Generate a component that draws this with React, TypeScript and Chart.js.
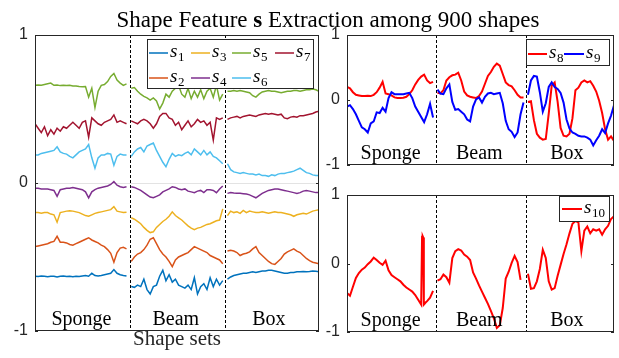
import React, { useEffect, useRef } from 'react';
import { Chart, registerables } from 'chart.js';
Chart.register(...registerables);

// ---------- categories / ticks ----------
const SEG_LABELS = ['Sponge', 'Beam', 'Box'];
const SEG_LABEL_X = [147, 446, 741];
const DIVIDERS = [301, 602];
const Y_TICKS = [-1, 0, 1];
const TITLE_PARTS = ['Shape Feature ', 's', ' Extraction among 900 shapes'];
const X_LABEL = 'Shape sets';

// ---------- x positions (shape index) ----------
const SPONGE_X = [0, 10, 20, 30, 40, 50, 60, 70, 80, 90, 100, 110, 120, 130, 140, 150, 160, 170, 180, 190, 200, 210, 220, 230, 240, 250, 260, 270, 280, 290];
const BEAM_X = [305, 315, 325, 335, 345, 355, 365, 375, 385, 395, 405, 415, 425, 435, 445, 455, 465, 475, 485, 495, 505, 515, 525, 535, 545, 555, 565, 575, 585, 595];
const BOX_X = [610, 620, 630, 640, 650, 660, 670, 680, 690, 700, 710, 720, 730, 740, 750, 760, 770, 780, 790, 800, 810, 820, 830, 840, 850, 860, 870, 880, 890, 900];
const S10_SPONGE_X = [0, 10, 20, 30, 40, 50, 60, 70, 80, 90, 100, 110, 120, 130, 140, 150, 160, 170, 180, 190, 200, 210, 220, 230, 240, 250, 253, 255, 257, 259, 265, 270, 280, 290];

// ---------- series values ----------
const S1_SPONGE = [-0.63, -0.632, -0.628, -0.63, -0.633, -0.63, -0.63, -0.635, -0.63, -0.628, -0.632, -0.63, -0.633, -0.63, -0.632, -0.628, -0.625, -0.63, -0.61, -0.625, -0.628, -0.625, -0.62, -0.615, -0.61, -0.585, -0.61, -0.62, -0.625, -0.628];
const S1_BEAM = [-0.70, -0.705, -0.69, -0.70, -0.65, -0.72, -0.75, -0.70, -0.69, -0.63, -0.59, -0.66, -0.62, -0.67, -0.65, -0.69, -0.70, -0.71, -0.69, -0.72, -0.64, -0.75, -0.70, -0.68, -0.72, -0.64, -0.70, -0.65, -0.69, -0.66];
const S1_BOX = [-0.65, -0.635, -0.625, -0.62, -0.615, -0.61, -0.61, -0.605, -0.60, -0.605, -0.60, -0.595, -0.595, -0.59, -0.59, -0.595, -0.60, -0.605, -0.61, -0.61, -0.605, -0.605, -0.60, -0.60, -0.598, -0.60, -0.598, -0.595, -0.597, -0.60];

const S2_SPONGE = [-0.43, -0.425, -0.42, -0.415, -0.41, -0.40, -0.395, -0.36, -0.40, -0.40, -0.405, -0.415, -0.42, -0.41, -0.40, -0.39, -0.38, -0.37, -0.385, -0.395, -0.405, -0.42, -0.43, -0.45, -0.475, -0.535, -0.47, -0.44, -0.435, -0.445];
const S2_BEAM = [-0.53, -0.50, -0.48, -0.47, -0.45, -0.42, -0.38, -0.37, -0.41, -0.45, -0.48, -0.50, -0.53, -0.565, -0.52, -0.50, -0.49, -0.48, -0.47, -0.45, -0.43, -0.44, -0.45, -0.46, -0.47, -0.49, -0.50, -0.51, -0.52, -0.545];
const S2_BOX = [-0.46, -0.455, -0.46, -0.47, -0.49, -0.48, -0.475, -0.465, -0.445, -0.43, -0.47, -0.49, -0.51, -0.53, -0.545, -0.55, -0.53, -0.51, -0.48, -0.465, -0.455, -0.445, -0.46, -0.47, -0.49, -0.51, -0.525, -0.535, -0.54, -0.545];

const S3_SPONGE = [-0.20, -0.20, -0.205, -0.20, -0.20, -0.21, -0.215, -0.265, -0.20, -0.195, -0.19, -0.188, -0.19, -0.195, -0.20, -0.21, -0.22, -0.225, -0.215, -0.205, -0.20, -0.195, -0.19, -0.185, -0.18, -0.16, -0.19, -0.195, -0.20, -0.197];
const S3_BEAM = [-0.235, -0.245, -0.26, -0.275, -0.30, -0.32, -0.335, -0.33, -0.30, -0.28, -0.26, -0.245, -0.225, -0.195, -0.22, -0.235, -0.25, -0.27, -0.29, -0.305, -0.315, -0.305, -0.30, -0.29, -0.28, -0.275, -0.265, -0.255, -0.25, -0.175];
const S3_BOX = [-0.22, -0.19, -0.20, -0.195, -0.205, -0.185, -0.20, -0.19, -0.195, -0.20, -0.20, -0.195, -0.20, -0.205, -0.20, -0.195, -0.20, -0.20, -0.205, -0.21, -0.215, -0.225, -0.215, -0.21, -0.205, -0.21, -0.20, -0.19, -0.185, -0.18];

const S4_SPONGE = [-0.035, -0.035, -0.04, -0.04, -0.04, -0.045, -0.05, -0.09, -0.045, -0.04, -0.035, -0.035, -0.03, -0.035, -0.04, -0.045, -0.06, -0.10, -0.06, -0.045, -0.035, -0.03, -0.025, -0.02, -0.01, 0.01, -0.015, -0.025, -0.03, -0.025];
const S4_BEAM = [-0.025, -0.03, -0.04, -0.05, -0.065, -0.08, -0.095, -0.10, -0.09, -0.08, -0.06, -0.05, -0.04, -0.025, -0.03, -0.04, -0.045, -0.04, -0.055, -0.06, -0.065, -0.055, -0.05, -0.065, -0.045, -0.045, -0.05, -0.065, -0.04, -0.02];
const S4_BOX = [-0.07, -0.065, -0.068, -0.07, -0.07, -0.072, -0.075, -0.08, -0.09, -0.10, -0.085, -0.07, -0.06, -0.05, -0.045, -0.04, -0.04, -0.045, -0.05, -0.055, -0.06, -0.065, -0.07, -0.065, -0.055, -0.05, -0.055, -0.06, -0.065, -0.065];

const S5_SPONGE = [0.66, 0.662, 0.66, 0.665, 0.67, 0.675, 0.66, 0.662, 0.658, 0.66, 0.658, 0.66, 0.655, 0.656, 0.652, 0.65, 0.652, 0.58, 0.64, 0.51, 0.62, 0.66, 0.665, 0.685, 0.72, 0.74, 0.695, 0.675, 0.66, 0.67];
const S5_BEAM = [0.64, 0.645, 0.62, 0.60, 0.585, 0.575, 0.56, 0.575, 0.555, 0.50, 0.54, 0.60, 0.58, 0.62, 0.64, 0.66, 0.60, 0.58, 0.64, 0.57, 0.62, 0.58, 0.63, 0.57, 0.62, 0.64, 0.58, 0.66, 0.56, 0.60];
const S5_BOX = [0.62, 0.62, 0.625, 0.62, 0.625, 0.62, 0.615, 0.61, 0.59, 0.58, 0.60, 0.615, 0.62, 0.625, 0.62, 0.62, 0.615, 0.61, 0.615, 0.62, 0.62, 0.625, 0.625, 0.62, 0.625, 0.63, 0.63, 0.635, 0.63, 0.62];

const S6_SPONGE = [0.19, 0.19, 0.20, 0.205, 0.21, 0.215, 0.22, 0.245, 0.21, 0.20, 0.195, 0.18, 0.17, 0.19, 0.21, 0.22, 0.23, 0.26, 0.17, 0.10, 0.17, 0.19, 0.19, 0.20, 0.195, 0.12, 0.18, 0.195, 0.19, 0.19];
const S6_BEAM = [0.18, 0.21, 0.23, 0.24, 0.21, 0.25, 0.26, 0.27, 0.22, 0.18, 0.14, 0.11, 0.16, 0.20, 0.18, 0.19, 0.185, 0.20, 0.21, 0.19, 0.23, 0.21, 0.19, 0.22, 0.19, 0.21, 0.18, 0.17, 0.15, 0.13];
const S6_BOX = [0.13, 0.09, 0.075, 0.07, 0.065, 0.07, 0.065, 0.06, 0.06, 0.055, 0.06, 0.05, 0.05, 0.045, 0.055, 0.05, 0.06, 0.065, 0.065, 0.07, 0.075, 0.08, 0.09, 0.10, 0.085, 0.07, 0.065, 0.055, 0.05, 0.05];

const S7_SPONGE = [0.40, 0.37, 0.34, 0.38, 0.32, 0.36, 0.33, 0.37, 0.35, 0.38, 0.37, 0.39, 0.41, 0.39, 0.37, 0.41, 0.42, 0.31, 0.44, 0.42, 0.40, 0.39, 0.41, 0.42, 0.43, 0.46, 0.41, 0.42, 0.41, 0.40];
const S7_BEAM = [0.42, 0.41, 0.40, 0.42, 0.43, 0.42, 0.40, 0.37, 0.40, 0.45, 0.47, 0.47, 0.44, 0.43, 0.39, 0.41, 0.36, 0.39, 0.42, 0.38, 0.40, 0.43, 0.41, 0.42, 0.39, 0.41, 0.29, 0.44, 0.43, 0.44];
const S7_BOX = [0.43, 0.44, 0.445, 0.45, 0.44, 0.45, 0.455, 0.46, 0.455, 0.45, 0.46, 0.465, 0.47, 0.465, 0.47, 0.465, 0.46, 0.465, 0.44, 0.435, 0.445, 0.45, 0.445, 0.455, 0.455, 0.46, 0.465, 0.47, 0.48, 0.485];

const S8_SPONGE = [0.20, 0.18, 0.12, 0.08, 0.07, 0.06, 0.06, 0.065, 0.06, 0.08, 0.12, 0.19, 0.28, 0.10, 0.09, 0.07, 0.04, 0.03, 0.03, 0.035, 0.05, 0.09, 0.15, 0.24, 0.31, 0.36, 0.39, 0.30, 0.26, 0.28];
const S8_BEAM = [0.11, 0.10, 0.15, 0.30, 0.35, 0.38, 0.39, 0.42, 0.30, 0.13, 0.07, 0.05, 0.04, 0.03, 0.06, 0.13, 0.25, 0.37, 0.43, 0.51, 0.56, 0.53, 0.40, 0.27, 0.23, 0.21, 0.15, 0.08, 0.04, 0.04];
const S8_BOX = [-0.03, -0.02, -0.31, -0.52, -0.58, -0.61, -0.60, -0.21, 0.22, 0.27, -0.03, -0.43, -0.55, -0.56, -0.52, -0.28, 0.15, 0.19, 0.27, 0.30, 0.27, 0.29, 0.22, 0.13, -0.01, -0.20, -0.45, -0.61, -0.56, -0.63];

const S9_SPONGE = [-0.10, -0.08, -0.14, -0.22, -0.32, -0.42, -0.45, -0.50, -0.36, -0.33, -0.19, -0.20, -0.12, -0.18, 0.03, 0.12, 0.09, 0.09, 0.09, 0.09, 0.10, 0.11, 0.03, -0.10, -0.18, -0.26, -0.34, -0.22, -0.06, -0.27];
const S9_BEAM = [0.16, 0.10, 0.09, 0.18, 0.24, -0.03, -0.15, -0.14, -0.18, -0.22, -0.30, -0.33, -0.10, 0.01, 0.04, -0.04, 0.05, 0.10, 0.11, 0.09, 0.10, 0.11, -0.05, -0.32, -0.45, -0.49, -0.57, -0.50, -0.22, -0.04];
const S9_BOX = [0.08, 0.30, 0.37, 0.36, 0.12, -0.18, -0.05, 0.20, 0.27, 0.20, 0.17, 0.11, -0.04, -0.30, -0.44, -0.50, -0.52, -0.55, -0.56, -0.56, -0.58, -0.61, -0.70, -0.62, -0.55, -0.45, -0.51, -0.36, -0.24, -0.08];

const S10_SPONGE = [-0.43, -0.47, -0.34, -0.21, -0.14, -0.09, -0.06, -0.01, 0.03, 0.085, 0.05, 0.01, -0.02, 0.04, -0.10, -0.17, -0.20, -0.23, -0.26, -0.31, -0.35, -0.38, -0.41, -0.46, -0.53, -0.60, 0.39, 0.40, 0.38, -0.60, -0.57, -0.55, -0.50, -0.40];
const S10_BEAM = [-0.25, -0.23, -0.16, -0.20, -0.28, 0.08, 0.18, 0.21, 0.19, 0.13, 0.10, 0.05, -0.13, -0.22, -0.32, -0.41, -0.50, -0.59, -0.69, -0.80, -0.94, -0.90, -0.65, -0.22, -0.12, 0.01, 0.11, 0.02, -0.24, null];
const S10_BOX = [-0.15, -0.37, -0.36, -0.26, -0.08, 0.20, 0.08, -0.26, -0.38, -0.36, -0.18, -0.02, 0.14, 0.28, 0.44, 0.58, 0.62, 0.60, 0.18, 0.48, 0.54, 0.44, 0.50, 0.48, 0.50, 0.42, 0.50, 0.55, 0.65, 0.69];

const COLORS: Record<string, string> = {
  s1: '#0072BD', s2: '#D95319', s3: '#EDB120', s4: '#7E2F8E', s5: '#77AC30',
  s6: '#4DBEEE', s7: '#A2142F', s8: '#FF0000', s9: '#0000FF', s10: '#FF0000',
};

type Pt = { x: number; y: number | null };
function buildPoints(segs: [number[], (number | null)[]][]): Pt[] {
  const pts: Pt[] = [];
  segs.forEach(([xs, ys], i) => {
    if (i > 0) pts.push({ x: xs[0] - 5, y: null });
    xs.forEach((x, j) => pts.push({ x, y: ys[j] }));
  });
  return pts;
}

const AXIS_COLOR = '#262626';
const SERIF = '"Liberation Serif", "Times New Roman", serif';
const SANS = '"Liberation Sans", Arial, sans-serif';

type LegendItem = { key: string; sub: string; x0: number; x1: number; tx: number; y: number };
type LegendSpec = { box: [number, number, number, number]; items: LegendItem[]; lw: number };

function decorPlugin(ox: number, oy: number, legend: LegendSpec, extra?: (ctx: CanvasRenderingContext2D) => void) {
  return {
    id: 'decor',
    beforeDatasetsDraw(chart: any) {
      const { ctx, chartArea: a, scales } = chart;
      ctx.save();
      ctx.strokeStyle = '#000';
      ctx.lineWidth = 1;
      ctx.setLineDash([3, 2]);
      DIVIDERS.forEach((v) => {
        const x = Math.round(scales.x.getPixelForValue(v)) + 0.5;
        ctx.beginPath();
        ctx.moveTo(x, a.top);
        ctx.lineTo(x, a.bottom);
        ctx.stroke();
      });
      ctx.restore();
    },
    afterDatasetsDraw(chart: any) {
      const { ctx, chartArea: a, scales } = chart;
      ctx.save();
      // segment labels
      ctx.fillStyle = '#000';
      ctx.font = `20px ${SERIF}`;
      ctx.textAlign = 'center';
      ctx.textBaseline = 'alphabetic';
      SEG_LABELS.forEach((t, i) => {
        ctx.fillText(t, scales.x.getPixelForValue(SEG_LABEL_X[i]), a.bottom - 6);
      });
      // axes box
      ctx.strokeStyle = AXIS_COLOR;
      ctx.lineWidth = 1;
      ctx.strokeRect(a.left + 0.5, a.top + 0.5, a.right - a.left - 1, a.bottom - a.top - 1);
      // inward ticks
      Y_TICKS.forEach((v) => {
        const y = Math.round(scales.y.getPixelForValue(v)) + 0.5;
        ctx.beginPath();
        ctx.moveTo(a.left, y); ctx.lineTo(a.left + 3, y);
        ctx.moveTo(a.right - 3, y); ctx.lineTo(a.right, y);
        ctx.stroke();
      });
      // legend
      const [bx0, by0, bx1, by1] = legend.box;
      ctx.fillStyle = '#fff';
      ctx.fillRect(bx0 - ox, by0 - oy, bx1 - bx0, by1 - by0);
      ctx.strokeStyle = AXIS_COLOR;
      ctx.strokeRect(bx0 - ox + 0.5, by0 - oy + 0.5, bx1 - bx0, by1 - by0);
      legend.items.forEach((it) => {
        ctx.strokeStyle = COLORS[it.key];
        ctx.lineWidth = legend.lw;
        ctx.beginPath();
        ctx.moveTo(it.x0 - ox, it.y - oy);
        ctx.lineTo(it.x1 - ox, it.y - oy);
        ctx.stroke();
        ctx.fillStyle = '#000';
        ctx.textAlign = 'left';
        ctx.font = `italic 19px ${SERIF}`;
        ctx.fillText('s', it.tx - ox, it.y - oy + 4);
        const w = ctx.measureText('s').width;
        ctx.font = `13px ${SERIF}`;
        ctx.fillText(it.sub, it.tx - ox + w + 0.5, it.y - oy + 8);
      });
      if (extra) extra(ctx);
      ctx.restore();
    },
  };
}

function makeConfig(datasets: any[], pad: any, yWidth: number, zeroGrid: boolean, plugin: any) {
  return {
    type: 'line',
    data: { datasets },
    options: {
      animation: false,
      responsive: false,
      maintainAspectRatio: false,
      events: [],
      layout: { padding: pad },
      plugins: { legend: { display: false }, tooltip: { enabled: false }, title: { display: false } },
      elements: { point: { radius: 0 }, line: { tension: 0 } },
      scales: {
        x: { type: 'linear', min: 0, max: 900, display: false },
        y: {
          type: 'linear', min: -1, max: 1,
          afterFit: (s: any) => { s.width = yWidth; },
          ticks: { stepSize: 1, padding: 7, color: AXIS_COLOR, font: { family: SANS, size: 16, lineHeight: 1 } },
          grid: {
            display: zeroGrid,
            drawTicks: false,
            color: (c: any) => (c.tick && c.tick.value === 0 ? '#e3e3e3' : 'rgba(0,0,0,0)'),
          },
          border: { display: false },
        },
      },
    },
    plugins: [plugin],
  };
}

function ds(key: string, data: Pt[], width: number, order: number) {
  return { label: key, data, borderColor: COLORS[key], borderWidth: width, pointRadius: 0, spanGaps: false, fill: false, order };
}

function Panel({ left, top, width, height, build }: { left: number; top: number; width: number; height: number; build: () => any }) {
  const ref = useRef<HTMLCanvasElement>(null);
  useEffect(() => {
    if (!ref.current) return;
    const chart = new Chart(ref.current, build());
    return () => chart.destroy();
  }, []);
  return (
    <canvas
      ref={ref}
      width={width}
      height={height}
      style={{ position: 'absolute', left, top, width, height }}
    />
  );
}

const LEFT_COLS = [149, 191, 232, 275];
const LEFT_ROWS = [53, 78];

function buildLeft() {
  const keys: [string, number[], number[], number[]][] = [
    ['s1', S1_SPONGE, S1_BEAM, S1_BOX],
    ['s2', S2_SPONGE, S2_BEAM, S2_BOX],
    ['s3', S3_SPONGE, S3_BEAM, S3_BOX],
    ['s4', S4_SPONGE, S4_BEAM, S4_BOX],
    ['s5', S5_SPONGE, S5_BEAM, S5_BOX],
    ['s6', S6_SPONGE, S6_BEAM, S6_BOX],
    ['s7', S7_SPONGE, S7_BEAM, S7_BOX],
  ];
  const datasets = keys.map(([k, a, b, c], i) =>
    ds(k, buildPoints([[SPONGE_X, a], [BEAM_X, b], [BOX_X, c]]), 1.5, 7 - i)
  );
  const items: LegendItem[] = keys.map(([k], i) => {
    const col = Math.floor(i / 2);
    const row = i % 2;
    const x0 = LEFT_COLS[col];
    return { key: k, sub: k.slice(1), x0, x1: x0 + 19, tx: x0 + 21, y: LEFT_ROWS[row] };
  });
  const legend: LegendSpec = { box: [147, 39, 313, 88], items, lw: 1.5 };
  const extra = (ctx: CanvasRenderingContext2D) => {
    ctx.fillStyle = '#000';
    ctx.textAlign = 'left';
    ctx.textBaseline = 'alphabetic';
    const fonts = [`23px ${SERIF}`, `bold 23px ${SERIF}`, `23px ${SERIF}`];
    const widths = TITLE_PARTS.map((t, i) => { ctx.font = fonts[i]; return ctx.measureText(t).width; });
    const total = widths.reduce((p, q) => p + q, 0);
    let x = 328 - total / 2;
    TITLE_PARTS.forEach((t, i) => { ctx.font = fonts[i]; ctx.fillText(t, x, 27); x += widths[i]; });
    ctx.fillStyle = AXIS_COLOR;
    ctx.font = `21px ${SERIF}`;
    ctx.textAlign = 'center';
    ctx.fillText(X_LABEL, 177, 345);
  };
  return makeConfig(datasets, { left: 0, top: 35, right: 300, bottom: 27 }, 35, true, decorPlugin(0, 0, legend, extra));
}

function buildTopRight() {
  const datasets = [
    ds('s8', buildPoints([[SPONGE_X, S8_SPONGE], [BEAM_X, S8_BEAM], [BOX_X, S8_BOX]]), 2, 2),
    ds('s9', buildPoints([[SPONGE_X, S9_SPONGE], [BEAM_X, S9_BEAM], [BOX_X, S9_BOX]]), 2, 1),
  ];
  const legend: LegendSpec = {
    box: [526, 39, 609, 65],
    items: [
      { key: 's8', sub: '8', x0: 528, x1: 547, tx: 549, y: 54 },
      { key: 's9', sub: '9', x0: 564, x1: 584, tx: 586, y: 54 },
    ],
    lw: 2,
  };
  return makeConfig(datasets, { left: 0, top: 35, right: 5, bottom: 12 }, 47, false, decorPlugin(300, 0, legend));
}

function buildBottomRight() {
  const datasets = [
    ds('s10', buildPoints([[S10_SPONGE_X, S10_SPONGE], [BEAM_X, S10_BEAM], [BOX_X, S10_BOX]]), 2, 1),
  ];
  const legend: LegendSpec = {
    box: [559, 196, 609, 221],
    items: [{ key: 's10', sub: '10', x0: 562, x1: 582, tx: 584, y: 209 }],
    lw: 2,
  };
  return makeConfig(datasets, { left: 0, top: 10, right: 5, bottom: 26 }, 47, false, decorPlugin(300, 180, legend));
}

export default function App() {
  return (
    <div style={{ position: 'absolute', left: 0, top: 0, width: 619, height: 358, background: '#fff', overflow: 'hidden' }}>
      <Panel left={0} top={0} width={619} height={358} build={buildLeft} />
      <Panel left={300} top={0} width={319} height={180} build={buildTopRight} />
      <Panel left={300} top={180} width={319} height={178} build={buildBottomRight} />
    </div>
  );
}
